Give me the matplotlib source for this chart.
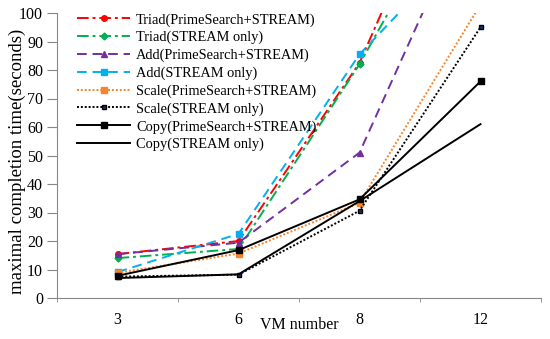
import matplotlib.pyplot as plt

plt.rcParams['font.family'] = ['Liberation Serif', 'DejaVu Serif']

vm_numbers = ['3', '6', '8', '12']

# values at 12 VMs for the steep series lie above the 100 s axis limit
triad_ps = [15.4, 20.0, 82.5, 179]
triad_stream = [14.0, 17.2, 82.0, 158]
add_ps = [15.4, 19.4, 51.0, 145]
add_stream = [9.1, 22.5, 85.5, 130]
scale_ps = [8.8, 15.6, 33.4, 103]
scale_stream = [7.5, 8.2, 30.6, 95]
copy_ps = [7.8, 16.8, 34.6, 76]
copy_stream = [7.0, 8.3, 34.0, 61]

labels = ['Triad(PrimeSearch+STREAM)', 'Triad(STREAM only)',
          'Add(PrimeSearch+STREAM)', 'Add(STREAM only)',
          'Scale(PrimeSearch+STREAM)', 'Scale(STREAM only)',
          'Copy(PrimeSearch+STREAM)', 'Copy(STREAM only)']

fig = plt.figure(figsize=(5.5, 3.39), dpi=100)
ax = fig.add_axes([57 / 550, 41 / 339, 484 / 550, 285 / 339])
x = list(range(len(vm_numbers)))

styles = [
    (triad_ps, dict(color='#FF0000', ls=(0, (6, 2, 1.5, 2)), marker='o', ms=4)),
    (triad_stream, dict(color='#00B050', ls=(0, (6, 2, 1.5, 2)), marker='D', ms=3.5)),
    (add_ps, dict(color='#7030A0', ls=(0, (5, 3)), marker='^', ms=4.5)),
    (add_stream, dict(color='#00B0F0', ls=(0, (5, 3)), marker='s', ms=4.5)),
    (scale_ps, dict(color='#F7832A', ls=(0, (1, 1)), marker='s', ms=4)),
    (scale_stream, dict(color='black', ls=(0, (1, 1)), marker='s', ms=3.5,
                        mfc='#1F2D6B', mec='black')),
    (copy_ps, dict(color='black', ls='-', marker='s', ms=4.5)),
    (copy_stream, dict(color='black', ls='-')),
]

for (vals, st), lab in zip(styles, labels):
    ax.plot(x, vals, lw=1.4, label=lab, **st)

ax.set_xlim(-0.5, 3.5)
ax.set_ylim(0, 100)
ax.set_yticks(range(0, 101, 10))
ax.set_xticks(x)
ax.set_xticklabels(vm_numbers, fontsize=11.5)
ax.set_xticks([-0.5, 0.5, 1.5, 2.5, 3.5], minor=True)
ax.tick_params(axis='x', which='major', length=0, pad=10)
ax.tick_params(axis='x', which='minor', length=3, color='#888888', direction='out')
ax.tick_params(axis='y', length=7, color='#888888', labelsize=11.5, pad=3)

for side in ['top', 'right']:
    ax.spines[side].set_visible(False)
for side in ['left', 'bottom']:
    ax.spines[side].set_color('#888888')

ax.set_ylabel('maximal completion time(seconds)', fontsize=13.5)
ax.yaxis.set_label_coords(-0.064, 0.48)
ax.set_xlabel('VM number', fontsize=11.5)
ax.xaxis.set_label_coords(0.50, -0.065)

ax.legend(loc='upper left', bbox_to_anchor=(0.02, 1.035), frameon=False,
          fontsize=10.4, handlelength=3.7, labelspacing=0.3, borderpad=0.2,
          handletextpad=0.4)

fig.savefig('out.png', dpi=100)
